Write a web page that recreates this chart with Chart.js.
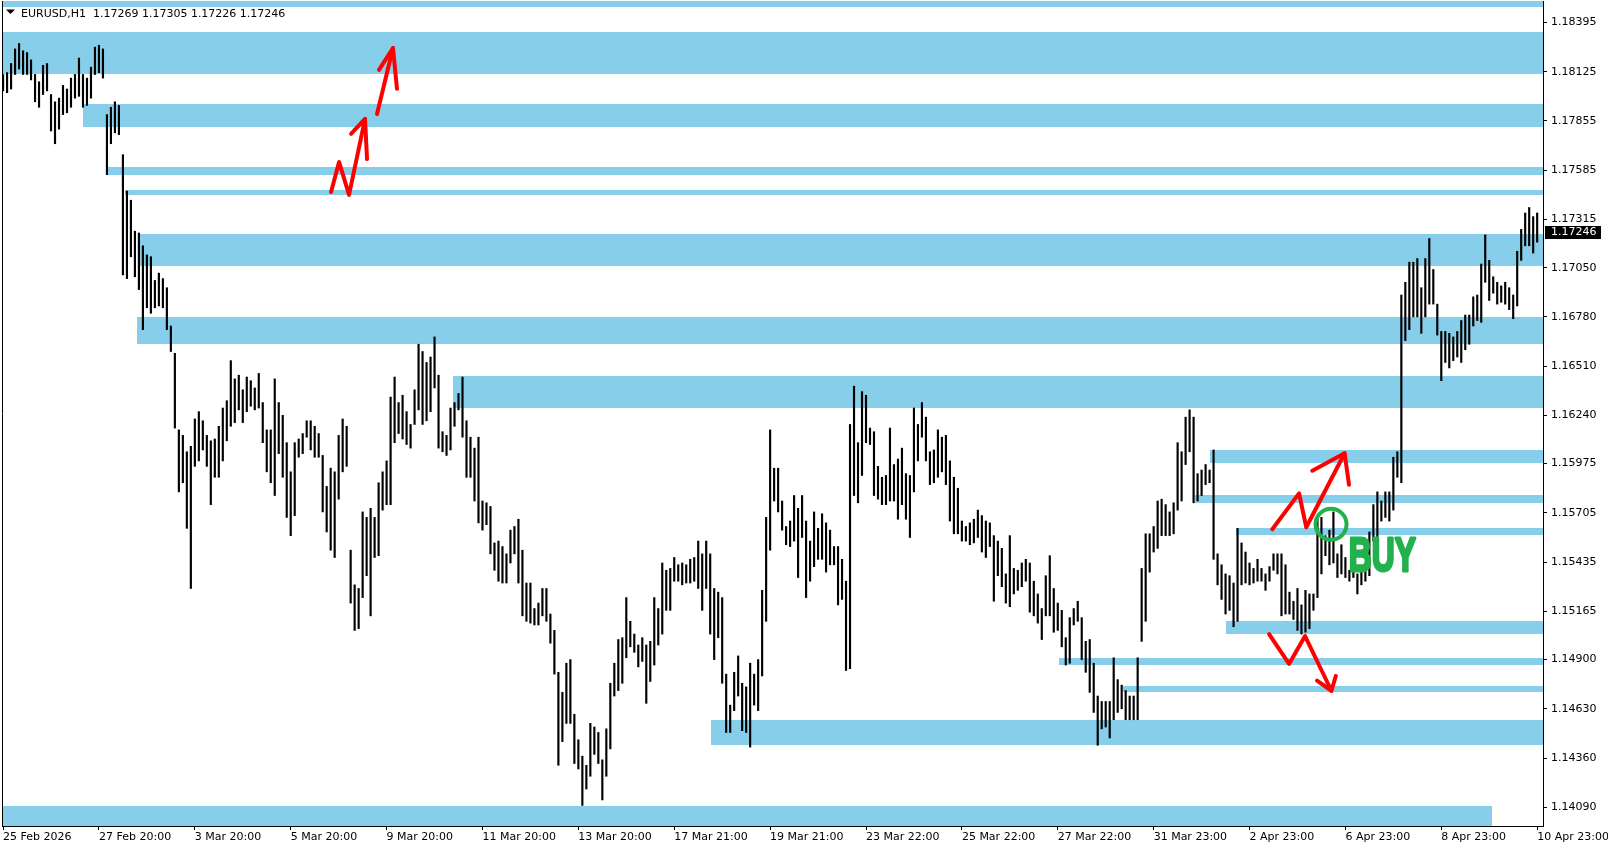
<!DOCTYPE html>
<html>
<head>
<meta charset="utf-8">
<title>EURUSD,H1</title>
<script src="https://cdn.jsdelivr.net/npm/chart.js@4.4.1/dist/chart.umd.min.js"></script>
<style>
  html, body { margin: 0; padding: 0; background: #ffffff; }
  #wrap { width: 1608px; height: 850px; position: relative; }
</style>
</head>
<body>
<div id="wrap"><canvas id="chart"></canvas></div>
<script>
const symbol = 'EURUSD,H1';
// open, high, low, close of the last bar
const lastBar = [1.17269, 1.17305, 1.17226, 1.17246];

const xLabels = ['25 Feb 2026', '27 Feb 20:00', '3 Mar 20:00', '5 Mar 20:00', '9 Mar 20:00',
  '11 Mar 20:00', '13 Mar 20:00', '17 Mar 21:00', '19 Mar 21:00', '23 Mar 22:00', '25 Mar 22:00',
  '27 Mar 22:00', '31 Mar 23:00', '2 Apr 23:00', '6 Apr 23:00', '8 Apr 23:00', '10 Apr 23:00'];
const barsPerLabel = 24; // two-hour bars between time labels

const yTicks = [1.18395, 1.18125, 1.17855, 1.17585, 1.17315, 1.17050, 1.16780, 1.16510, 1.16240,
  1.15975, 1.15705, 1.15435, 1.15165, 1.14900, 1.14630, 1.14360, 1.14090];

// two-hour highs / lows
const highs = [
  1.1811, 1.1812, 1.1817, 1.1825, 1.1828, 1.1824, 1.1823, 1.1819, 1.1811, 1.1807, 1.1816, 1.1817,
  1.1800, 1.1796, 1.1798, 1.1805, 1.1803, 1.1809, 1.1811, 1.1820, 1.1811, 1.1809, 1.1815, 1.1826,
  1.1827, 1.1825, 1.1789, 1.1793, 1.1796, 1.1794, 1.1767, 1.1747, 1.1742, 1.1725, 1.1724, 1.1717,
  1.1712, 1.1711, 1.1698, 1.1702, 1.1699, 1.1694, 1.1673, 1.1658, 1.1616, 1.1613, 1.1604, 1.1607,
  1.1622, 1.1626, 1.1621, 1.1613, 1.1610, 1.1611, 1.1618, 1.1628, 1.1632, 1.1654, 1.1644, 1.1646,
  1.1638, 1.1645, 1.1643, 1.1639, 1.1647, 1.1631, 1.1616, 1.1616, 1.1644, 1.1631, 1.1624, 1.1609,
  1.1593, 1.1609, 1.1611, 1.1614, 1.1621, 1.1621, 1.1618, 1.1614, 1.1602, 1.1585, 1.1595, 1.1593,
  1.1613, 1.1622, 1.1618, 1.1550, 1.1531, 1.1529, 1.1571, 1.1568, 1.1573, 1.1568, 1.1587, 1.1593,
  1.1599, 1.1634, 1.1645, 1.1631, 1.1635, 1.1626, 1.1619, 1.1638, 1.1663, 1.1659, 1.1653, 1.1656,
  1.1667, 1.1646, 1.1615, 1.1613, 1.1628, 1.1631, 1.1636, 1.1645, 1.1621, 1.1612, 1.1606, 1.1612,
  1.1577, 1.1576, 1.1574, 1.1554, 1.1555, 1.1552, 1.1548, 1.1561, 1.1563, 1.1567, 1.1550, 1.1532,
  1.1532, 1.1518, 1.1521, 1.1529, 1.1529, 1.1515, 1.1506, 1.1483, 1.1472, 1.1488, 1.1490, 1.1460,
  1.1446, 1.1437, 1.1432, 1.1455, 1.1453, 1.1450, 1.1435, 1.1452, 1.1477, 1.1488, 1.1501, 1.1502,
  1.1524, 1.1511, 1.1504, 1.1498, 1.1502, 1.1498, 1.1500, 1.1524, 1.1518, 1.1543, 1.1539, 1.1540,
  1.1546, 1.1542, 1.1543, 1.1542, 1.1545, 1.1546, 1.1555, 1.1548, 1.1555, 1.1548, 1.1529, 1.1527,
  1.1524, 1.1482, 1.1465, 1.1483, 1.1492, 1.1477, 1.1475, 1.1488, 1.1482, 1.1490, 1.1528, 1.1568,
  1.1616, 1.1595, 1.1595, 1.1577, 1.1563, 1.1566, 1.1580, 1.1573, 1.1580, 1.1566, 1.1555, 1.1571,
  1.1562, 1.1570, 1.1565, 1.1561, 1.1552, 1.1552, 1.1545, 1.1533, 1.1619, 1.1640, 1.1609, 1.1637,
  1.1635, 1.1617, 1.1615, 1.1596, 1.1590, 1.1591, 1.1617, 1.1597, 1.1600, 1.1606, 1.1592, 1.1591,
  1.1628, 1.1619, 1.1631, 1.1623, 1.1604, 1.1605, 1.1616, 1.1612, 1.1613, 1.1599, 1.1590, 1.1584,
  1.1566, 1.1563, 1.1565, 1.1567, 1.1572, 1.1569, 1.1566, 1.1565, 1.1558, 1.1555, 1.1551, 1.1537,
  1.1558, 1.1540, 1.1539, 1.1543, 1.1545, 1.1543, 1.1533, 1.1526, 1.1518, 1.1536, 1.1547, 1.1529,
  1.1521, 1.1517, 1.1502, 1.1513, 1.1518, 1.1522, 1.1513, 1.1500, 1.1501, 1.1488, 1.1470, 1.1467,
  1.1467, 1.1467, 1.1491, 1.1479, 1.1476, 1.1473, 1.1470, 1.1470, 1.1491, 1.1540, 1.1559, 1.1559,
  1.1563, 1.1577, 1.1578, 1.1575, 1.1571, 1.1576, 1.1609, 1.1604, 1.1623, 1.1627, 1.1623, 1.1592,
  1.1594, 1.1597, 1.1594, 1.1605, 1.1548, 1.1542, 1.1537, 1.1536, 1.1532, 1.1562, 1.1554, 1.1549,
  1.1543, 1.1540, 1.1545, 1.1540, 1.1537, 1.1541, 1.1548, 1.1548, 1.1548, 1.1542, 1.1527, 1.1522,
  1.1529, 1.1520, 1.1528, 1.1526, 1.1526, 1.1568, 1.1568, 1.1558, 1.1561, 1.1571, 1.1548, 1.1553,
  1.1546, 1.1539, 1.1543, 1.1537, 1.1539, 1.1543, 1.1560, 1.1575, 1.1582, 1.1577, 1.1582, 1.1582,
  1.1601, 1.1604, 1.1690, 1.1697, 1.1708, 1.1708, 1.1710, 1.1694, 1.1710, 1.1721, 1.1704, 1.1685,
  1.1670, 1.1670, 1.1669, 1.1667, 1.1670, 1.1676, 1.1679, 1.1679, 1.1689, 1.1690, 1.1707, 1.1723,
  1.1709, 1.1700, 1.1697, 1.1695, 1.1697, 1.1694, 1.1690, 1.1714, 1.1726, 1.1735, 1.1738, 1.1733,
  1.1735
];
const lows = [
  1.1802, 1.1801, 1.1803, 1.1811, 1.1814, 1.1811, 1.1811, 1.1808, 1.1796, 1.1793, 1.1800, 1.1802,
  1.1780, 1.1773, 1.1781, 1.1789, 1.1790, 1.1793, 1.1798, 1.1799, 1.1793, 1.1794, 1.1798, 1.1811,
  1.1812, 1.1809, 1.1756, 1.1773, 1.1779, 1.1778, 1.1701, 1.1699, 1.1711, 1.1700, 1.1693, 1.1671,
  1.1683, 1.1680, 1.1683, 1.1684, 1.1683, 1.1671, 1.1659, 1.1617, 1.1582, 1.1587, 1.1562, 1.1529,
  1.1596, 1.1599, 1.1605, 1.1596, 1.1575, 1.1590, 1.1590, 1.1599, 1.1610, 1.1618, 1.1620, 1.1627,
  1.1620, 1.1626, 1.1629, 1.1627, 1.1628, 1.1609, 1.1593, 1.1587, 1.1580, 1.1603, 1.1590, 1.1568,
  1.1558, 1.1569, 1.1601, 1.1603, 1.1612, 1.1605, 1.1601, 1.1601, 1.1571, 1.1560, 1.1550, 1.1546,
  1.1578, 1.1593, 1.1596, 1.1521, 1.1506, 1.1507, 1.1524, 1.1536, 1.1514, 1.1546, 1.1547, 1.1572,
  1.1575, 1.1575, 1.1609, 1.1614, 1.1611, 1.1608, 1.1606, 1.1619, 1.1627, 1.1619, 1.1621, 1.1626,
  1.1639, 1.1606, 1.1604, 1.1602, 1.1605, 1.1618, 1.1627, 1.1612, 1.1590, 1.1590, 1.1577, 1.1565,
  1.1561, 1.1564, 1.1548, 1.1539, 1.1533, 1.1532, 1.1532, 1.1543, 1.1548, 1.1532, 1.1514, 1.1511,
  1.1510, 1.1509, 1.1509, 1.1514, 1.1511, 1.1499, 1.1482, 1.1432, 1.1445, 1.1455, 1.1455, 1.1433,
  1.1430, 1.1410, 1.1419, 1.1426, 1.1438, 1.1433, 1.1413, 1.1426, 1.1441, 1.1470, 1.1473, 1.1477,
  1.1491, 1.1497, 1.1494, 1.1486, 1.1489, 1.1466, 1.1478, 1.1487, 1.1498, 1.1504, 1.1517, 1.1517,
  1.1533, 1.1533, 1.1531, 1.1532, 1.1532, 1.1533, 1.1529, 1.1517, 1.1529, 1.1504, 1.1490, 1.1502,
  1.1477, 1.1450, 1.1450, 1.1462, 1.1470, 1.1451, 1.1450, 1.1442, 1.1465, 1.1462, 1.1481, 1.1511,
  1.1550, 1.1577, 1.1571, 1.1561, 1.1553, 1.1552, 1.1555, 1.1535, 1.1557, 1.1524, 1.1533, 1.1541,
  1.1545, 1.1545, 1.1538, 1.1542, 1.1542, 1.1520, 1.1523, 1.1484, 1.1485, 1.1580, 1.1576, 1.1591,
  1.1609, 1.1608, 1.1580, 1.1578, 1.1575, 1.1575, 1.1577, 1.1577, 1.1567, 1.1575, 1.1567, 1.1557,
  1.1582, 1.1599, 1.1612, 1.1599, 1.1586, 1.1587, 1.1590, 1.1593, 1.1586, 1.1566, 1.1559, 1.1559,
  1.1555, 1.1555, 1.1553, 1.1554, 1.1557, 1.1549, 1.1546, 1.1552, 1.1522, 1.1536, 1.1530, 1.1521,
  1.1519, 1.1526, 1.1528, 1.1530, 1.1533, 1.1516, 1.1514, 1.1510, 1.1501, 1.1514, 1.1514, 1.1505,
  1.1506, 1.1497, 1.1487, 1.1488, 1.1509, 1.1511, 1.1490, 1.1483, 1.1472, 1.1461, 1.1443, 1.1452,
  1.1453, 1.1447, 1.1457, 1.1461, 1.1463, 1.1457, 1.1457, 1.1457, 1.1457, 1.1500, 1.1511, 1.1538,
  1.1549, 1.1551, 1.1558, 1.1558, 1.1558, 1.1559, 1.1572, 1.1577, 1.1597, 1.1604, 1.1576, 1.1577,
  1.1580, 1.1586, 1.1587, 1.1545, 1.1531, 1.1523, 1.1515, 1.1517, 1.1508, 1.1511, 1.1531, 1.1532,
  1.1531, 1.1532, 1.1533, 1.1533, 1.1528, 1.1533, 1.1539, 1.1537, 1.1514, 1.1515, 1.1515, 1.1512,
  1.1506, 1.1504, 1.1505, 1.1507, 1.1517, 1.1524, 1.1537, 1.1547, 1.1542, 1.1543, 1.1535, 1.1537,
  1.1535, 1.1533, 1.1535, 1.1526, 1.1531, 1.1533, 1.1536, 1.1555, 1.1555, 1.1566, 1.1568, 1.1566,
  1.1572, 1.1590, 1.1587, 1.1665, 1.1671, 1.1678, 1.1678, 1.1669, 1.1678, 1.1685, 1.1685, 1.1668,
  1.1643, 1.1653, 1.1650, 1.1654, 1.1656, 1.1653, 1.1660, 1.1663, 1.1673, 1.1676, 1.1675, 1.1697,
  1.1687, 1.1691, 1.1685, 1.1686, 1.1685, 1.1682, 1.1677, 1.1684, 1.1709, 1.1717, 1.1717, 1.1713,
  1.1719
];

// support / resistance zones: [from bar, to bar, upper price, lower price]
const zones = [
  [-1, 400, 1.18550, 1.18478],
  [-1, 400, 1.18345, 1.18112],
  [20.0, 400, 1.17950, 1.17821],
  [25.7, 400, 1.17601, 1.17557],
  [30.5, 400, 1.17474, 1.17446],
  [34.1, 400, 1.17237, 1.17057],
  [33.4, 400, 1.16782, 1.16631],
  [112.7, 400, 1.16456, 1.16280],
  [302.1, 400, 1.16052, 1.15976],
  [298.3, 400, 1.15805, 1.15758],
  [308.5, 400, 1.15623, 1.15581],
  [306.2, 400, 1.15112, 1.15042],
  [264.4, 400, 1.14906, 1.14868],
  [280.3, 400, 1.14757, 1.14723],
  [177.1, 400, 1.14571, 1.14430],
  [0, 372.7, 1.14096, 1.13980]
];

// hand drawn arrows: [bar, price]
const arrow1Shaft = [[82.1, 1.17465], [84.1, 1.17630], [86.6, 1.17449], [90.6, 1.17866]];
const arrow1Head = [[87.1, 1.17784], [90.6, 1.17866], [91.1, 1.17646]];
const arrow2Shaft = [[93.6, 1.17893], [97.6, 1.18255]];
const arrow2Head = [[94.1, 1.18135], [97.6, 1.18255], [98.6, 1.18031]];
const arrow3Shaft = [[317.7, 1.15615], [324.4, 1.15812], [326.2, 1.15626], [335.8, 1.16032]];
const arrow3Head = [[327.7, 1.15936], [335.8, 1.16032], [336.9, 1.15859]];
const arrow4Shaft = [[316.9, 1.15040], [321.9, 1.14876], [325.9, 1.15029], [332.5, 1.14729]];
const arrow4Head = [[328.9, 1.14784], [332.5, 1.14729], [333.6, 1.14810]];

const buyCircle = [332.4, 1.15642];
const buyText = ['BUY', 336.6, 1.15380];

Chart.defaults.font.family = "'DejaVu Sans', 'Verdana', sans-serif";
Chart.defaults.color = '#000000';

function redLine(points) {
  return {
    type: 'line',
    data: points.map(([x, y]) => ({ x: x, y: y })),
    borderColor: '#ff0000',
    borderWidth: 4,
    pointRadius: 0,
    tension: 0,
    borderJoinStyle: 'round',
    borderCapStyle: 'round',
    clip: false,
    order: 1
  };
}

const zonePlugin = {
  id: 'zones',
  beforeDatasetsDraw(chart) {
    const { ctx, chartArea: a, scales: { x, y } } = chart;
    ctx.save();
    ctx.beginPath();
    ctx.rect(a.left, a.top, a.right - a.left, a.bottom - a.top);
    ctx.clip();
    ctx.fillStyle = '#87ceeb';
    zones.forEach(([from, to, top, bottom]) => {
      const x0 = Math.round(x.getPixelForValue(from));
      const x1 = Math.round(x.getPixelForValue(to));
      const y0 = Math.round(y.getPixelForValue(top));
      const y1 = Math.round(y.getPixelForValue(bottom));
      ctx.fillRect(x0, y0, x1 - x0, y1 - y0);
    });
    ctx.restore();
  }
};

const overlayPlugin = {
  id: 'overlay',
  afterDraw(chart) {
    const { ctx, chartArea: a, scales: { x, y } } = chart;
    ctx.save();

    // BUY label, squeezed to the width of the original lettering
    ctx.font = "bold 48px 'Liberation Sans Narrow', 'Liberation Sans', sans-serif";
    const w = ctx.measureText(buyText[0]).width;
    ctx.translate(x.getPixelForValue(buyText[1]) + 1, y.getPixelForValue(buyText[2]) - 1);
    ctx.scale(67 / w, 1);
    ctx.fillStyle = '#22b14c';
    ctx.strokeStyle = '#22b14c';
    ctx.lineWidth = 3;
    ctx.lineJoin = 'round';
    ctx.textBaseline = 'alphabetic';
    ctx.strokeText(buyText[0], 0, 0);
    ctx.fillText(buyText[0], 0, 0);
    ctx.setTransform(1, 0, 0, 1, 0, 0);

    // left frame line
    ctx.strokeStyle = '#000000';
    ctx.lineWidth = 1;
    ctx.beginPath();
    ctx.moveTo(a.left + 0.5, a.top);
    ctx.lineTo(a.left + 0.5, a.bottom);
    ctx.stroke();

    // header
    ctx.fillStyle = '#000000';
    ctx.beginPath();
    ctx.moveTo(6, 9.5);
    ctx.lineTo(15, 9.5);
    ctx.lineTo(10.5, 14);
    ctx.closePath();
    ctx.fill();
    ctx.font = "11px 'DejaVu Sans', sans-serif";
    ctx.textBaseline = 'alphabetic';
    ctx.fillText(symbol + '  ' + lastBar.map(v => v.toFixed(5)).join(' '), 21, 17);

    // last price marker
    const py = Math.round(y.getPixelForValue(lastBar[3]));
    ctx.fillRect(a.right + 2, py - 6, 56, 13);
    ctx.fillStyle = '#ffffff';
    ctx.textBaseline = 'middle';
    ctx.fillText(lastBar[3].toFixed(5), a.right + 8, py + 0.5);
    ctx.restore();
  }
};

const datasets = [
  {
    type: 'line',
    data: [{ x: buyCircle[0], y: buyCircle[1] }],
    showLine: false,
    pointRadius: 15.5,
    pointBorderWidth: 4,
    pointBorderColor: '#22b14c',
    pointBackgroundColor: 'rgba(0,0,0,0)',
    clip: false,
    order: 0
  },
  redLine(arrow1Shaft), redLine(arrow1Head),
  redLine(arrow2Shaft), redLine(arrow2Head),
  redLine(arrow3Shaft), redLine(arrow3Head),
  redLine(arrow4Shaft), redLine(arrow4Head),
  {
    type: 'bar',
    label: symbol,
    data: highs.map((h, i) => ({ x: i, y: [lows[i], h] })),
    backgroundColor: '#000000',
    borderWidth: 0,
    barThickness: 1.5,
    order: 3
  }
];

new Chart(document.getElementById('chart'), {
  type: 'bar',
  data: { datasets: datasets },
  options: {
    responsive: true,
    maintainAspectRatio: false,
    animation: false,
    devicePixelRatio: 1,
    events: [],
    layout: { padding: { left: 2, top: 1, right: 0, bottom: 0 }, autoPadding: false },
    plugins: {
      legend: { display: false },
      tooltip: { enabled: false },
      title: { display: false }
    },
    scales: {
      x: {
        type: 'linear',
        offset: false,
        min: -0.27,
        max: 385.46,
        afterBuildTicks: s => { s.ticks = xLabels.map((_, k) => ({ value: k * barsPerLabel })); },
        afterFit: s => {
          s.height = 24;
          s.paddingLeft = 0; s.paddingRight = 0; s.paddingTop = 0; s.paddingBottom = 0;
        },
        ticks: {
          callback: (v, k) => xLabels[k],
          align: 'start',
          autoSkip: false,
          maxRotation: 0,
          minRotation: 0,
          padding: 1,
          color: '#000000',
          font: { size: 11 }
        },
        grid: { drawOnChartArea: false, offset: false, tickLength: 4, color: '#000000' },
        border: { display: true, color: '#000000', width: 1 }
      },
      y: {
        type: 'linear',
        position: 'right',
        beginAtZero: false,
        min: 1.13987,
        max: 1.18513,
        afterBuildTicks: s => { s.ticks = yTicks.map(v => ({ value: v })); },
        afterFit: s => {
          s.width = 65;
          s.paddingLeft = 0; s.paddingRight = 0; s.paddingTop = 0; s.paddingBottom = 0;
        },
        ticks: {
          callback: v => v.toFixed(5),
          autoSkip: false,
          padding: 4,
          color: '#000000',
          font: { size: 11 }
        },
        grid: { drawOnChartArea: false, tickLength: 4, color: '#000000' },
        border: { display: true, color: '#000000', width: 1 }
      }
    }
  },
  plugins: [zonePlugin, overlayPlugin]
});
</script>
</body>
</html>
